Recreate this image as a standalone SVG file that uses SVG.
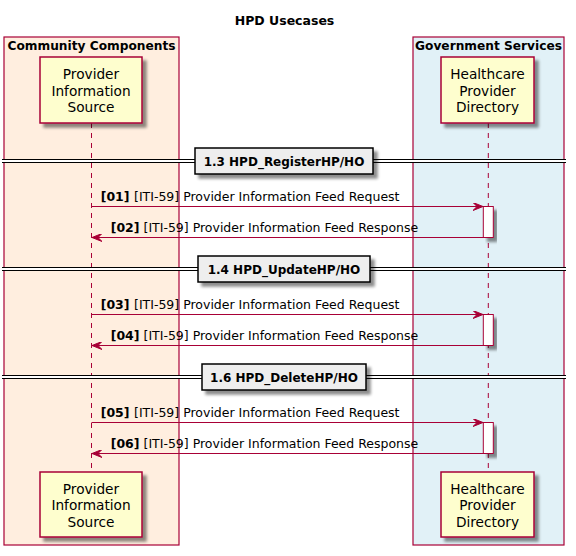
<svg xmlns="http://www.w3.org/2000/svg" width="576" height="556" viewBox="0 0 576 556">
<defs>
<filter id="sh" x="-20%" y="-20%" width="150%" height="150%">
<feGaussianBlur in="SourceAlpha" stdDeviation="1.8"/>
<feOffset dx="4" dy="4" result="b"/>
<feComponentTransfer><feFuncA type="linear" slope="0.45"/></feComponentTransfer>
<feMerge><feMergeNode/><feMergeNode in="SourceGraphic"/></feMerge>
</filter>
<marker id="ah" viewBox="0 0 11 8" refX="10" refY="4" markerWidth="11" markerHeight="8" markerUnits="userSpaceOnUse" orient="auto">
<polygon points="0,0 10,4 0,8 4,4" fill="#A80036" stroke="#A80036" stroke-width="1"/>
</marker>
</defs>
<style>
text{font-family:"DejaVu Sans","Liberation Sans",sans-serif;fill:#000}
.t{font-size:12.5px;font-weight:bold}
.fl{font-size:12.2px;font-weight:bold}
.pt{font-size:13.7px}
.sl{font-size:12px;font-weight:bold}
.m{font-size:12.5px}
.mb{font-weight:bold}
.frame{stroke:#A80036;stroke-width:1.2}
.part{fill:#FEFECE;stroke:#A80036;stroke-width:1.5}
.life{stroke:#A80036;stroke-width:1;stroke-dasharray:5,5;fill:none}
.msg{stroke:#A80036;stroke-width:1;fill:none;marker-end:url(#ah)}
.act{fill:#FFFFFF;stroke:#A80036;stroke-width:1}
.sepbox{fill:#EEEEEE;stroke:#000;stroke-width:1.5}
.sepl{stroke:#000;stroke-width:1}
</style>
<rect width="576" height="556" fill="#FFFFFF"/>
<text class="t" x="284.5" y="24.5" text-anchor="middle">HPD Usecases</text>

<g id="box-community">
<rect class="frame" x="4" y="37" width="175" height="508" fill="#FFEEDF"/>
<text class="fl" x="91.5" y="50" text-anchor="middle">Community Components</text>
</g>
<g id="box-government">
<rect class="frame" x="413" y="37" width="151" height="508" fill="#E1F1F7"/>
<text class="fl" x="488.5" y="50" text-anchor="middle">Government Services</text>
</g>

<g id="lifelines">
<line class="life" x1="91.5" y1="123" x2="91.5" y2="472"/>
<line class="life" x1="488.3" y1="123" x2="488.3" y2="472"/>
</g>

<g id="pis-top">
<rect class="part" x="40" y="57" width="102" height="66" filter="url(#sh)"/>
<text class="pt" x="91" y="79" text-anchor="middle">Provider</text>
<text class="pt" x="91" y="95.5" text-anchor="middle">Information</text>
<text class="pt" x="91" y="112" text-anchor="middle">Source</text>
</g>
<g id="hpd-top">
<rect class="part" x="441" y="57" width="93" height="66" filter="url(#sh)"/>
<text class="pt" x="487.5" y="79" text-anchor="middle">Healthcare</text>
<text class="pt" x="487.5" y="95.5" text-anchor="middle">Provider</text>
<text class="pt" x="487.5" y="112" text-anchor="middle">Directory</text>
</g>

<g id="sep-1">
<rect x="2" y="159.5" width="564" height="3" fill="#FFFFFF"/>
<line class="sepl" x1="2" y1="159.5" x2="566" y2="159.5"/>
<line class="sepl" x1="2" y1="162.5" x2="566" y2="162.5"/>
<rect class="sepbox" x="195" y="148" width="178" height="26" filter="url(#sh)"/>
<text class="sl" x="284" y="165.5" text-anchor="middle">1.3 HPD_RegisterHP/HO</text>
</g>
<g id="sep-2">
<rect x="2" y="267.5" width="564" height="3" fill="#FFFFFF"/>
<line class="sepl" x1="2" y1="267.5" x2="566" y2="267.5"/>
<line class="sepl" x1="2" y1="270.5" x2="566" y2="270.5"/>
<rect class="sepbox" x="198" y="256" width="172" height="26" filter="url(#sh)"/>
<text class="sl" x="284" y="273.5" text-anchor="middle">1.4 HPD_UpdateHP/HO</text>
</g>
<g id="sep-3">
<rect x="2" y="375.5" width="564" height="3" fill="#FFFFFF"/>
<line class="sepl" x1="2" y1="375.5" x2="566" y2="375.5"/>
<line class="sepl" x1="2" y1="378.5" x2="566" y2="378.5"/>
<rect class="sepbox" x="202" y="364" width="164" height="26" filter="url(#sh)"/>
<text class="sl" x="284" y="381.5" text-anchor="middle">1.6 HPD_DeleteHP/HO</text>
</g>

<g id="activations">
<rect class="act" x="483.3" y="206.5" width="10" height="31" filter="url(#sh)"/>
<rect class="act" x="483.3" y="314.5" width="10" height="31" filter="url(#sh)"/>
<rect class="act" x="483.3" y="422.5" width="10" height="31" filter="url(#sh)"/>
</g>

<g id="connectors">
<line class="msg" x1="91.5" y1="206.5" x2="483" y2="206.5"/>
<line class="msg" x1="483.3" y1="237.5" x2="92" y2="237.5"/>
<line class="msg" x1="91.5" y1="314.5" x2="483" y2="314.5"/>
<line class="msg" x1="483.3" y1="345.5" x2="92" y2="345.5"/>
<line class="msg" x1="91.5" y1="422.5" x2="483" y2="422.5"/>
<line class="msg" x1="483.3" y1="453.5" x2="92" y2="453.5"/>
</g>
<g id="labels">
<text class="m" y="201"><tspan class="mb" x="100.7">[01]</tspan><tspan x="134">[ITI-59] Provider Information Feed Request</tspan></text>
<text class="m" y="232"><tspan class="mb" x="110.7">[02]</tspan><tspan x="143.5">[ITI-59] Provider Information Feed Response</tspan></text>
<text class="m" y="309"><tspan class="mb" x="100.7">[03]</tspan><tspan x="134">[ITI-59] Provider Information Feed Request</tspan></text>
<text class="m" y="340"><tspan class="mb" x="110.7">[04]</tspan><tspan x="143.5">[ITI-59] Provider Information Feed Response</tspan></text>
<text class="m" y="417"><tspan class="mb" x="100.7">[05]</tspan><tspan x="134">[ITI-59] Provider Information Feed Request</tspan></text>
<text class="m" y="448"><tspan class="mb" x="110.7">[06]</tspan><tspan x="143.5">[ITI-59] Provider Information Feed Response</tspan></text>
</g>

<g id="pis-bottom">
<rect class="part" x="40" y="472" width="102" height="65" filter="url(#sh)"/>
<text class="pt" x="91" y="493.5" text-anchor="middle">Provider</text>
<text class="pt" x="91" y="510" text-anchor="middle">Information</text>
<text class="pt" x="91" y="526.5" text-anchor="middle">Source</text>
</g>
<g id="hpd-bottom">
<rect class="part" x="441" y="472" width="93" height="65" filter="url(#sh)"/>
<text class="pt" x="487.5" y="493.5" text-anchor="middle">Healthcare</text>
<text class="pt" x="487.5" y="510" text-anchor="middle">Provider</text>
<text class="pt" x="487.5" y="526.5" text-anchor="middle">Directory</text>
</g>
</svg>
